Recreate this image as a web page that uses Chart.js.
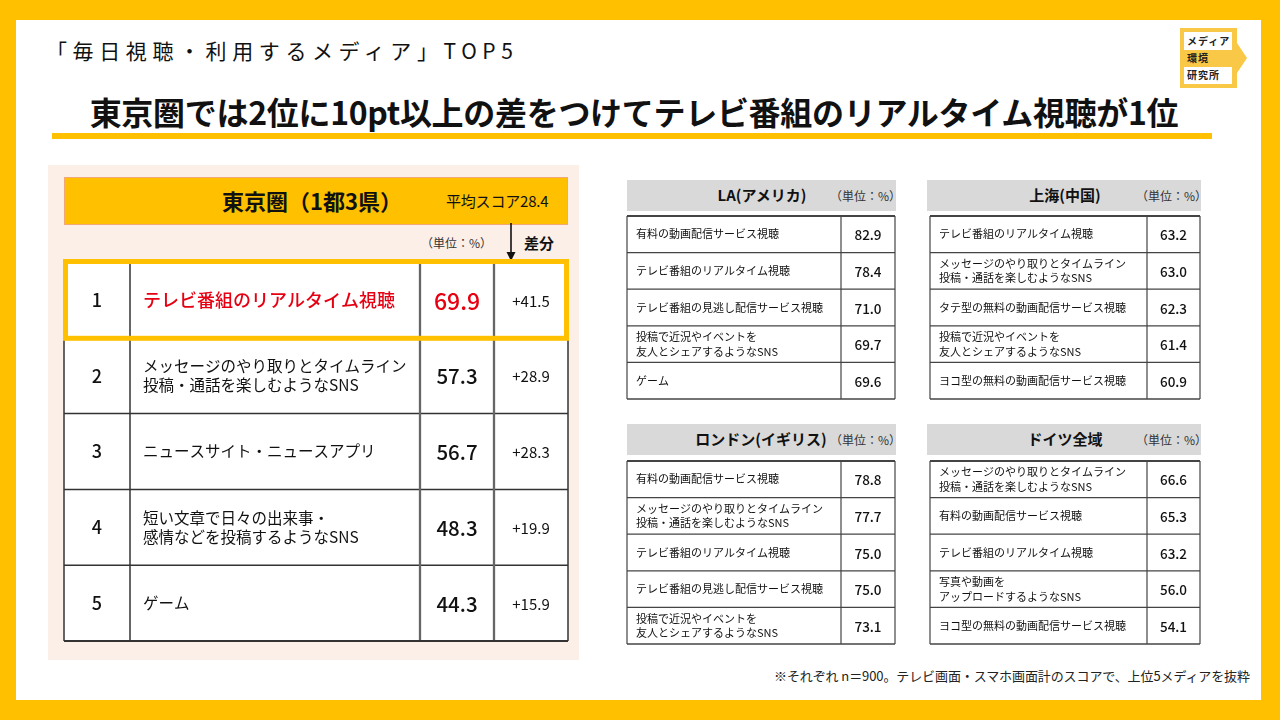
<!DOCTYPE html>
<html lang="ja">
<head>
<meta charset="utf-8">
<script src="https://cdn.jsdelivr.net/npm/chart.js@4.4.1/dist/chart.umd.min.js"></script>
<style>
  html, body { margin: 0; padding: 0; }
  body { width: 1280px; height: 720px; background: #FFC000; position: relative; overflow: hidden;
         font-family: "Noto Sans CJK JP", "Noto Sans", sans-serif; color: #111; }
  .sheet { position: absolute; left: 16px; top: 20px; width: 1245px; height: 680px; background: #fff; }
  .abs { position: absolute; white-space: nowrap; }
  .sub { left: 46px; top: 36px; font-size: 21px; letter-spacing: 5.6px; line-height: 28px; }
  .title { left: 0; width: 1268px; top: 89px; text-align: center; font-size: 32px; font-weight: 700; line-height: 44px; letter-spacing: -0.3px; }
  .uline { left: 52px; top: 133px; width: 1160px; height: 6px; background: #FFC000; }
  .panel { left: 48px; top: 165px; width: 531px; height: 495px; background: #FCEFE8; }
  .tkhead { left: 64px; top: 177px; width: 502px; height: 46px; background: #FFC000; border: 1px solid #F0A878; }
  .tkname { left: 222px; top: 184px; font-size: 22px; font-weight: 700; line-height: 32px; }
  .tkavg { left: 446px; top: 190px; font-size: 15px; line-height: 22px; letter-spacing: -0.2px; }
  .unit { font-size: 12px; color: #333; line-height: 18px; }
  .diffhd { left: 524px; top: 232px; font-size: 15px; font-weight: 700; line-height: 22px; }
  .gray { background: #D9D9D9; height: 31px; }
  .gname { font-size: 15px; font-weight: 700; line-height: 22px; text-align: center; }
  .note { left: 774px; top: 666px; font-size: 13px; line-height: 20px; color: #222; letter-spacing: -0.1px; }
  canvas { position: absolute; }
</style>
</head>
<body>
<div class="sheet"></div>
<div class="abs sub">「毎日視聴・利用するメディア」TOP5</div>
<div class="abs title">東京圏では2位に10pt以上の差をつけてテレビ番組のリアルタイム視聴が1位</div>
<div class="abs uline"></div>

<svg class="abs" style="left:1178px;top:26px" width="72" height="66" viewBox="1178 26 72 66">
  <polygon points="1180,28 1237,28 1237,43 1247,58 1237,73 1237,88 1180,88" fill="#F9C846"/>
  <rect x="1184" y="32" width="48" height="18" fill="#fff"/>
  <rect x="1184" y="67" width="48" height="17" fill="#fff"/>
  <g font-family="Noto Sans CJK JP" font-size="10" font-weight="700" fill="#222" letter-spacing="1">
    <text x="1187" y="45">メディア</text>
    <text x="1187" y="62">環境</text>
    <text x="1187" y="79">研究所</text>
  </g>
</svg>

<div class="abs panel"></div>
<div class="abs tkhead"></div>
<div class="abs tkname">東京圏（1都3県）</div>
<div class="abs tkavg">平均スコア28.4</div>
<div class="abs unit" style="left:421px;top:234px">（単位：%）</div>
<svg class="abs" style="left:504px;top:223px" width="14" height="40">
  <line x1="7" y1="0" x2="7" y2="30" stroke="#111" stroke-width="1.6"/>
  <polygon points="2.5,29 11.5,29 7,38" fill="#111"/>
</svg>
<div class="abs diffhd">差分</div>

<div class="abs gray" style="left:627px;top:180px;width:269px"></div>
<div class="abs gname" style="left:627px;top:184px;width:270px">LA(アメリカ)</div>
<div class="abs unit" style="left:830px;top:187px">（単位：%）</div>

<div class="abs gray" style="left:927px;top:180px;width:274px"></div>
<div class="abs gname" style="left:930px;top:184px;width:270px">上海(中国)</div>
<div class="abs unit" style="left:1136px;top:187px">（単位：%）</div>

<div class="abs gray" style="left:627px;top:424px;width:269px"></div>
<div class="abs gname" style="left:627px;top:428px;width:270px;text-indent:-2px">ロンドン(イギリス)</div>
<div class="abs unit" style="left:830px;top:431px">（単位：%）</div>

<div class="abs gray" style="left:927px;top:424px;width:274px"></div>
<div class="abs gname" style="left:930px;top:428px;width:270px">ドイツ全域</div>
<div class="abs unit" style="left:1136px;top:431px">（単位：%）</div>

<div class="abs note">※それぞれ n＝900。テレビ画面・スマホ画面計のスコアで、上位5メディアを抜粋</div>

<canvas id="tokyo" width="512" height="392" style="left:60px;top:255px"></canvas>
<canvas id="la" width="276" height="190" style="left:623px;top:212px"></canvas>
<canvas id="shanghai" width="278" height="190" style="left:926px;top:212px"></canvas>
<canvas id="london" width="276" height="190" style="left:623px;top:457px"></canvas>
<canvas id="germany" width="278" height="190" style="left:926px;top:457px"></canvas>

<script>
// ── data ───────────────────────────────────────────────
const tokyoRanks = ['1', '2', '3', '4', '5'];
const tokyoMedia = [
  'テレビ番組のリアルタイム視聴',
  ['メッセージのやり取りとタイムライン', '投稿・通話を楽しむようなSNS'],
  'ニュースサイト・ニュースアプリ',
  ['短い文章で日々の出来事・', '感情などを投稿するようなSNS'],
  'ゲーム',
];
const tokyoScores = [69.9, 57.3, 56.7, 48.3, 44.3];
const tokyoDiffs = [41.5, 28.9, 28.3, 19.9, 15.9];

const laMedia = [
  '有料の動画配信サービス視聴',
  'テレビ番組のリアルタイム視聴',
  'テレビ番組の見逃し配信サービス視聴',
  ['投稿で近況やイベントを', '友人とシェアするようなSNS'],
  'ゲーム',
];
const laScores = [82.9, 78.4, 71.0, 69.7, 69.6];

const shanghaiMedia = [
  'テレビ番組のリアルタイム視聴',
  ['メッセージのやり取りとタイムライン', '投稿・通話を楽しむようなSNS'],
  'タテ型の無料の動画配信サービス視聴',
  ['投稿で近況やイベントを', '友人とシェアするようなSNS'],
  'ヨコ型の無料の動画配信サービス視聴',
];
const shanghaiScores = [63.2, 63.0, 62.3, 61.4, 60.9];

const londonMedia = [
  '有料の動画配信サービス視聴',
  ['メッセージのやり取りとタイムライン', '投稿・通話を楽しむようなSNS'],
  'テレビ番組のリアルタイム視聴',
  'テレビ番組の見逃し配信サービス視聴',
  ['投稿で近況やイベントを', '友人とシェアするようなSNS'],
];
const londonScores = [78.8, 77.7, 75.0, 75.0, 73.1];

const germanyMedia = [
  ['メッセージのやり取りとタイムライン', '投稿・通話を楽しむようなSNS'],
  '有料の動画配信サービス視聴',
  'テレビ番組のリアルタイム視聴',
  ['写真や動画を', 'アップロードするようなSNS'],
  'ヨコ型の無料の動画配信サービス視聴',
];
const germanyScores = [66.6, 65.3, 63.2, 56.0, 54.1];

// ── table plugin: rows come from the y category scale ─────
const FONT = '"Noto Sans CJK JP", "Noto Sans", sans-serif';
const RED = '#E60012';

function line(ctx, x1, y1, x2, y2, w, color) {
  ctx.beginPath();
  ctx.lineWidth = w;
  ctx.strokeStyle = color;
  ctx.moveTo(x1, y1);
  ctx.lineTo(x2, y2);
  ctx.stroke();
}

const tableCells = {
  id: 'tableCells',
  afterDraw(chart, args, opts) {
    const { ctx, chartArea: a } = chart;
    const y = chart.scales.y;
    const labels = chart.data.labels;
    const values = chart.data.datasets[0].data;
    const n = labels.length;
    const rowH = a.height / n;
    const colX = opts.cols.map(f => a.left + f * a.width);

    ctx.save();
    ctx.fillStyle = '#fff';
    ctx.fillRect(a.left, a.top, a.width, a.height);
    ctx.textBaseline = 'middle';

    labels.forEach((lab, i) => {
      const yc = y.getPixelForValue(i);
      const hot = opts.highlight === i;
      const lines = Array.isArray(lab) ? lab : [lab];
      let c = 0;

      if (opts.ranks) {
        ctx.fillStyle = '#111';
        ctx.textAlign = 'center';
        ctx.font = `500 ${opts.rankSize}px ${FONT}`;
        ctx.fillText(opts.ranks[i], (colX[0] + colX[1]) / 2, yc);
        c = 1;
      }

      // label cell
      ctx.textAlign = 'left';
      ctx.fillStyle = hot ? RED : '#111';
      ctx.font = `${hot ? 500 : 400} ${hot ? opts.hotLabelSize : opts.labelSize}px ${FONT}`;
      const lx = colX[c] + opts.labelPad;
      lines.forEach((t, k) => {
        ctx.fillText(t, lx, yc + (k - (lines.length - 1) / 2) * opts.lineGap);
      });

      // value cell
      ctx.textAlign = 'center';
      ctx.fillStyle = hot ? RED : '#111';
      ctx.font = `500 ${hot ? opts.hotValueSize : opts.valueSize}px ${FONT}`;
      ctx.fillText(values[i].toFixed(1), (colX[c + 1] + colX[c + 2]) / 2, yc + 1);

      if (opts.diffs) {
        ctx.fillStyle = '#111';
        ctx.font = `400 ${opts.diffSize}px ${FONT}`;
        ctx.fillText('+' + opts.diffs[i].toFixed(1), (colX[c + 2] + colX[c + 3]) / 2, yc + 1);
      }

      // row separator
      if (i > 0) line(ctx, a.left, yc - rowH / 2, a.right, yc - rowH / 2, opts.gridW, opts.gridColor);
    });

    // columns and outer frame
    colX.forEach((x, k) => {
      const w = opts.thickCols && opts.thickCols.includes(k) ? opts.gridW + 0.8 : opts.gridW;
      const col = opts.thickCols && opts.thickCols.includes(k) ? '#666' : opts.gridColor;
      line(ctx, x, a.top, x, a.bottom, w, col);
    });
    line(ctx, a.left, a.top, a.right, a.top, opts.topW, opts.gridColor);
    line(ctx, a.left, a.bottom, a.right, a.bottom, opts.gridW + 0.5, opts.gridColor);

    if (opts.highlight !== undefined) {
      const yc = y.getPixelForValue(opts.highlight);
      ctx.lineWidth = 5;
      ctx.strokeStyle = '#FFC000';
      ctx.strokeRect(a.left + 1.5, yc - rowH / 2 - 0.5, a.width - 3, rowH + 1);
    }
    ctx.restore();
  }
};

function mkTable(id, labels, values, padding, cell) {
  return new Chart(document.getElementById(id), {
    type: 'bar',
    data: { labels, datasets: [{ data: values, backgroundColor: 'rgba(0,0,0,0)', borderWidth: 0 }] },
    options: {
      indexAxis: 'y',
      responsive: false,
      animation: false,
      layout: { padding },
      events: [],
      plugins: { legend: { display: false }, tooltip: { enabled: false }, tableCells: cell },
      scales: {
        x: { display: false, min: 0, max: 100 },
        y: { display: false, offset: true },
      },
    },
    plugins: [tableCells],
  });
}

mkTable('tokyo', tokyoMedia, tokyoScores, { left: 4, right: 4, top: 7, bottom: 6 }, {
  cols: [0, 66 / 504, 356 / 504, 430 / 504, 1],
  thickCols: [2, 3],
  ranks: tokyoRanks, diffs: tokyoDiffs, highlight: 0,
  rankSize: 18, labelSize: 15.5, hotLabelSize: 18, valueSize: 20.5, hotValueSize: 23, diffSize: 15,
  labelPad: 13, lineGap: 19, gridW: 1.5, topW: 1.5, gridColor: '#333',
});

const small = {
  labelSize: 11, hotLabelSize: 11, valueSize: 13.5, hotValueSize: 13.5,
  labelPad: 9, lineGap: 14.5, gridW: 1.2, topW: 2, gridColor: '#444',
};
mkTable('la', laMedia, laScores, { left: 4, right: 4, top: 4, bottom: 3 },
  Object.assign({ cols: [0, 214 / 268, 1] }, small));
mkTable('shanghai', shanghaiMedia, shanghaiScores, { left: 4, right: 4, top: 4, bottom: 3 },
  Object.assign({ cols: [0, 217 / 270, 1] }, small));
mkTable('london', londonMedia, londonScores, { left: 4, right: 4, top: 4, bottom: 3 },
  Object.assign({ cols: [0, 214 / 268, 1] }, small));
mkTable('germany', germanyMedia, germanyScores, { left: 4, right: 4, top: 4, bottom: 3 },
  Object.assign({ cols: [0, 217 / 270, 1] }, small));
</script>
</body>
</html>
